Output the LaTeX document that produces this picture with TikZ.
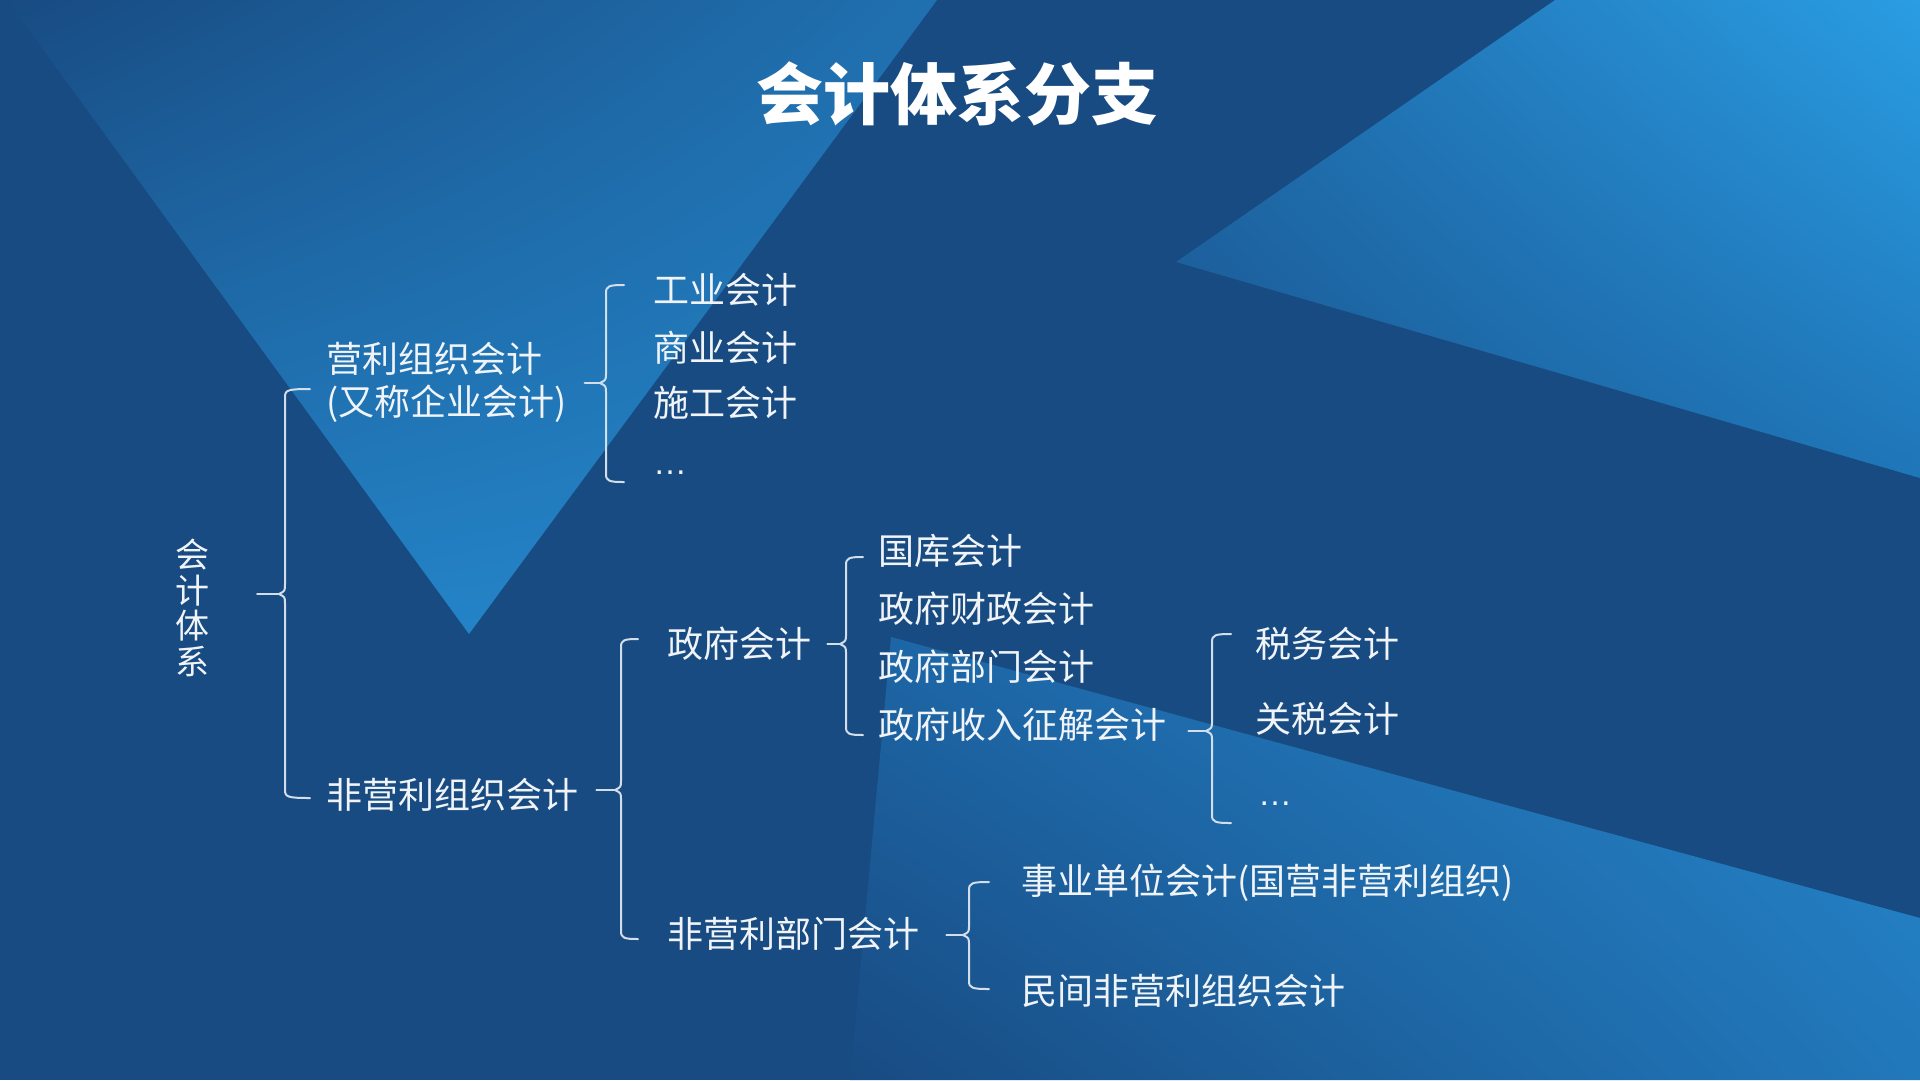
\documentclass[tikz,border=0pt]{standalone}
\usepackage{fontspec}
\usetikzlibrary{shadings}
\setmainfont{Noto Sans CJK SC}
\newfontfamily\latinfont{Liberation Sans}
\definecolor{navy}{HTML}{184B81}
\definecolor{txt}{HTML}{F0F4F8}
\definecolor{brc}{HTML}{D3DEEA}
\definecolor{va}{HTML}{184B82}\definecolor{vb}{HTML}{2070B0}
\definecolor{vc}{HTML}{2380C4}\definecolor{vd}{HTML}{2487CA}
\definecolor{ra}{HTML}{1F6CAB}\definecolor{rb}{HTML}{2A9DE3}
\definecolor{rc}{HTML}{1A5590}\definecolor{rd}{HTML}{1F76B8}
\definecolor{ba}{HTML}{1D65A5}\definecolor{bb}{HTML}{2688CD}
\definecolor{bc}{HTML}{184B82}\definecolor{bd}{HTML}{2178BB}
\tikzset{
  lbl/.style={anchor=west, inner sep=0pt, text=txt, font=\fontsize{36}{40}\selectfont},
  dots/.style={anchor=base west, inner sep=0pt, text=txt, font=\latinfont\fontsize{34}{40}\selectfont},
  brace line/.style={draw=brc, line width=2pt, line cap=round, line join=round},
}
% #1 x of the vertical, #2 top y, #3 bottom y, #4 tip y, #5 hook length
\newcommand\mybrace[5]{%
  \draw[brace line] (#1+#5,#2) .. controls (#1+3,#2) and (#1,#2+1) .. (#1,#2+8)
     -- (#1,#4-10) .. controls (#1,#4-3) .. (#1-6,#4)
     .. controls (#1,#4+3) .. (#1,#4+10) -- (#1,#3-8)
     .. controls (#1,#3-1) and (#1+3,#3) .. (#1+#5,#3);
}
\begin{document}
\begin{tikzpicture}[x=1pt,y=-1pt]
\useasboundingbox (0,0) rectangle (1920,1080);
\fill[navy] (0,0) rectangle (1920,1080);
% background shapes
\shade[upper left=va, upper right=vb, lower left=vc, lower right=vd]
  (7,0) -- (937,0) -- (469,634) -- cycle;
\shade[upper left=ra, upper right=rb, lower left=rc, lower right=rd]
  (1176,262) -- (1555,0) -- (1920,0) -- (1920,478) -- cycle;
\shade[upper left=ba, upper right=bb, lower left=bc, lower right=bd]
  (891,637) -- (1920,918) -- (1920,1080) -- (850,1080) -- cycle;

% title
\node[text=white, inner sep=0pt, font=\fontsize{67}{70}\selectfont\bfseries] (title) at (957,94) {会计体系分支};

% nodes
\node[text=txt, inner sep=0pt, align=center, font=\fontsize{34}{35.5}\selectfont] (sys) at (192,608) {会\\计\\体\\系};
\node[lbl, align=left, font=\fontsize{36}{43}\selectfont] (yl) at (326,382) {营利组织会计\\(又称企业会计)};
\node[lbl] (fyl) at (326,795) {非营利组织会计};
\node[lbl] (gy) at (653,290) {工业会计};
\node[lbl] (sy) at (653,348) {商业会计};
\node[lbl] (sg) at (653,403) {施工会计};
\node[dots] (d1) at (653,474) {…};
\node[lbl] (zfk) at (667,644) {政府会计};
\node[lbl] (fyb) at (667,934) {非营利部门会计};
\node[lbl] (gk) at (878,551) {国库会计};
\node[lbl] (cz) at (878,609) {政府财政会计};
\node[lbl] (bm) at (878,667) {政府部门会计};
\node[lbl] (zj) at (878,725) {政府收入征解会计};
\node[lbl] (sw) at (1255,644) {税务会计};
\node[lbl] (gs) at (1255,719) {关税会计};
\node[dots] (d2) at (1258,805) {…};
\node[lbl] (sydw) at (1021,883) {事业单位会计(国营非营利组织)};
\node[lbl] (mj) at (1021,991) {民间非营利组织会计};

% braces
\mybrace{285}{389}{798}{594}{25}
\mybrace{606}{285}{482}{383}{18}
\mybrace{621}{639}{939}{790}{17}
\mybrace{846}{557}{735}{644}{17}
\mybrace{1212}{634}{823}{731}{19}
\mybrace{969}{882}{989}{935}{20}

% stubs from parents to brace tips
\coordinate (t1) at (279,594);
\coordinate (t2) at (600,383);
\coordinate (t3) at (615,790);
\coordinate (t4) at (840,644);
\coordinate (t5) at (1206,731);
\coordinate (t6) at (963,935);
\draw[brace line] ([xshift=48pt]sys.east |- t1) -- (t1);
\draw[brace line] ([xshift=18pt]yl.east |- t2) -- (t2);
\draw[brace line] ([xshift=18pt]fyl.east |- t3) -- (t3);
\draw[brace line] ([xshift=16pt]zfk.east |- t4) -- (t4);
\draw[brace line] ([xshift=22pt]zj.east |- t5) -- (t5);
\draw[brace line] ([xshift=27pt]fyb.east |- t6) -- (t6);
\end{tikzpicture}
\end{document}
